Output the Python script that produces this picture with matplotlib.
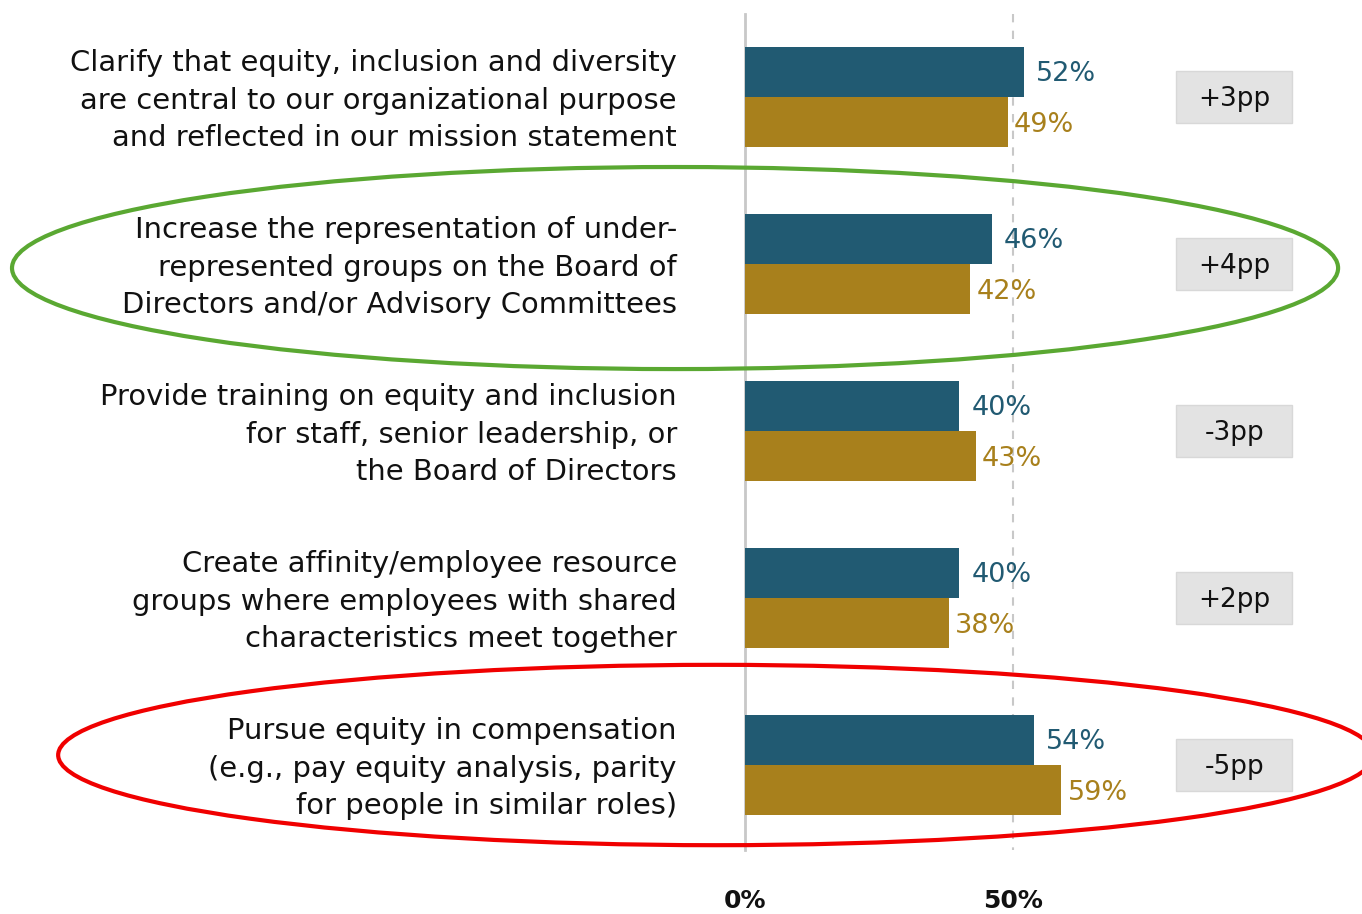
import matplotlib
matplotlib.use("Agg")
import matplotlib.pyplot as plt
from matplotlib.patches import Ellipse, Rectangle

plt.rcParams['font.family'] = ['DejaVu Sans']

categories = [
    "Clarify that equity, inclusion and diversity\nare central to our organizational purpose\nand reflected in our mission statement",
    "Increase the representation of under-\nrepresented groups on the Board of\nDirectors and/or Advisory Committees",
    "Provide training on equity and inclusion\nfor staff, senior leadership, or\nthe Board of Directors",
    "Create affinity/employee resource\ngroups where employees with shared\ncharacteristics meet together",
    "Pursue equity in compensation\n(e.g., pay equity analysis, parity\nfor people in similar roles)",
]
current = [52, 46, 40, 40, 54]
previous = [49, 42, 43, 38, 59]
diffs = ["+3pp", "+4pp", "-3pp", "+2pp", "-5pp"]

BLUE = "#215a72"
GOLD = "#a8801c"

fig = plt.figure(figsize=(13.62, 9.14), dpi=100)
ax = fig.add_axes([0, 0, 1, 1])
ax.set_xlim(-139.0, 115.1)
ax.set_ylim(4.892, -0.581)
ax.axis('off')

bh = 0.299
ys = list(range(len(categories)))

# axis lines
ax.plot([0, 0], [-0.497, 4.509], color="#c8c8c8", lw=2, zorder=1)
ax.plot([50, 50], [-0.497, 4.509], color="#c8c8c8", lw=1.5, ls=(0, (4, 4)), zorder=1)

ax.barh([y - bh / 2 for y in ys], current, height=bh, color=BLUE, zorder=2)
ax.barh([y + bh / 2 for y in ys], previous, height=bh, color=GOLD, zorder=2)

for y, c, p, lab, d in zip(ys, current, previous, categories, diffs):
    ax.text(c + 2.2, y - bh / 2 + 0.01, f"{c}%", color=BLUE, fontsize=19.5,
            va='center', ha='left')
    ax.text(p + 1.2, y + bh / 2 + 0.02, f"{p}%", color=GOLD, fontsize=19.5,
            va='center', ha='left')
    ax.text(-12.7, y + 0.022, lab, ha='right', va='center', fontsize=20.9, color="#111111",
            linespacing=1.43)
    ax.add_patch(Rectangle((80.4, y - 0.153), 21.7, 0.306, facecolor="#e3e3e3",
                           edgecolor="#d8d8d8", lw=1, zorder=2))
    ax.text(91.25, y + 0.01, d, ha='center', va='center', fontsize=19,
            color="#111111", zorder=3)

for v in [0, 50]:
    ax.text(v, 4.815, f"{v}%", ha='center', va='center', fontsize=18, fontweight='bold',
            color="#111111")

# highlight ellipses
ax.add_patch(Ellipse((-13.06, 1.024), 247.4, 1.21, fill=False, edgecolor="#5aa832", lw=3, zorder=4))
ax.add_patch(Ellipse((-5.4, 3.94), 245.5, 1.08, fill=False, edgecolor="#f00000", lw=3, zorder=4))

fig.savefig("out.png", dpi=100)
